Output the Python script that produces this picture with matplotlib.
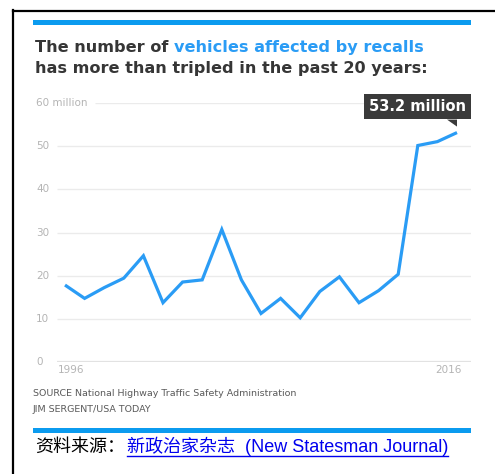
import numpy as np
import matplotlib
matplotlib.use("Agg")
import matplotlib.pyplot as plt
import matplotlib.transforms as mtransforms
from matplotlib.patches import Polygon

# data (millions of vehicles recalled)
years = list(range(1996, 2017))
vehicles = [17.8, 14.7, 17.2, 19.4, 24.6, 13.7, 18.5, 19.0, 30.7, 19.0,
            11.2, 14.7, 10.2, 16.3, 19.7, 13.7, 16.5, 20.3, 50.2, 51.1, 53.2]
y_ticks = [0, 10, 20, 30, 40, 50, 60]
y_tick_labels = ["0", "10", "20", "30", "40", "50", "60 million"]
x_tick_years = [1996, 2016]

W, H = 495, 474
BLUE_BAR = "#0b9bef"
LINE_BLUE = "#2a9cf5"
DARK = "#363636"
GRID = "#ebebeb"
TICK_GRAY = "#b4b4b4"


def fx(px):
    return px / W


def fy(py):
    return 1 - py / H


fig = plt.figure(figsize=(W / 100, H / 100), dpi=100)

# outer frame (top and left edges only)
fig.add_artist(plt.Line2D([fx(13), fx(495)], [fy(10.5), fy(10.5)], color="black", lw=1.6))
fig.add_artist(plt.Line2D([fx(13), fx(13)], [fy(10), fy(474)], color="black", lw=1.6))

# blue bars top and bottom
fig.add_artist(plt.Rectangle((fx(33), fy(25)), fx(471) - fx(33), fy(20) - fy(25),
                             color=BLUE_BAR, lw=0))
fig.add_artist(plt.Rectangle((fx(33), fy(432.5)), fx(471) - fx(33), fy(428) - fy(432.5),
                             color=BLUE_BAR, lw=0))

# title, first line in two colours
TSIZE = 11.6
t1 = fig.text(fx(35), fy(52), "The number of ", fontsize=TSIZE, fontweight="bold",
              color=DARK, va="baseline", ha="left")
fig.canvas.draw()
bb = t1.get_window_extent()
fig.text(bb.x1 / W, fy(52), "vehicles affected by recalls", fontsize=TSIZE,
         fontweight="bold", color=LINE_BLUE, va="baseline", ha="left")
fig.text(fx(35), fy(73), "has more than tripled in the past 20 years:", fontsize=TSIZE,
         fontweight="bold", color=DARK, va="baseline", ha="left")

# chart area
px_per_year = (457 - 65) / 20
x_left = 1996 - (65 - 57) / px_per_year
x_right = 2016 + (471 - 457) / px_per_year
ax = fig.add_axes([fx(57), fy(361.7), fx(471) - fx(57), (361.7 - 103.3) / H])
ax.set_xlim(x_left, x_right)
ax.set_ylim(0, 60)
ax.axis("off")

for v in y_ticks:
    start = x_left
    if v == 60:
        start = x_left + (95 - 57) / px_per_year
    ax.hlines(v, start, x_right, color="#e2e2e2" if v == 0 else GRID,
              lw=1.6 if v == 0 else 1.0, zorder=1)

lab_tr = mtransforms.blended_transform_factory(fig.transFigure, ax.transData)
for v, lab in zip(y_ticks, y_tick_labels):
    ax.text(fx(36), v, lab, transform=lab_tr, fontsize=7.5, color=TICK_GRAY,
            va="center", ha="left")
for yr in x_tick_years:
    first = yr == x_tick_years[0]
    ax.text(yr, 0, str(yr), fontsize=7.5, color=TICK_GRAY, va="top",
            ha="left" if first else "right",
            transform=mtransforms.offset_copy(ax.transData, fig=fig,
                                              x=-7 if first else 5, y=-3, units="dots"))

ax.plot(years, vehicles, color=LINE_BLUE, lw=2.3, solid_joinstyle="miter",
        solid_capstyle="butt", zorder=3, clip_on=False)

# callout on the last point
last_x, last_y = years[-1], vehicles[-1]
pt = ax.transData.transform((last_x, last_y))
tri = Polygon(ax.transData.inverted().transform([(pt[0], pt[1] + 6),
                                                 (pt[0] - 10, pt[1] + 13),
                                                 (pt[0], pt[1] + 13)]),
              closed=True, color="#3a3a3a", lw=0, clip_on=False)
ax.add_patch(tri)
box_tr = mtransforms.offset_copy(ax.transData, fig=fig, x=-39.5, y=26, units="dots")
ax.text(last_x, last_y, "53.2 million", transform=box_tr, fontsize=10.5,
        fontweight="bold", color="white", ha="center", va="center",
        bbox=dict(boxstyle="square,pad=0.35", fc="#3a3a3a", ec="none"), zorder=5)

# source lines
fig.text(fx(33), fy(394), "SOURCE National Highway Traffic Safety Administration",
         fontsize=6.8, color="#5a5a5a", va="center", ha="left")
fig.text(fx(33), fy(409), "JIM SERGENT/USA TODAY", fontsize=6.8, color="#5a5a5a",
         va="center", ha="left")

# chinese source line with underlined link
fams = ["Liberation Sans", "Noto Sans CJK SC"]
fig.text(fx(35), fy(452), "资料来源：", fontsize=13, color="black",
         va="baseline", ha="left", family=["Noto Sans CJK SC"])
c2 = fig.text(fx(127), fy(452), "新政治家杂志  (New Statesman Journal)", fontsize=13,
              color="#0000ee", va="baseline", ha="left", family=fams)
fig.canvas.draw()
lb = c2.get_window_extent()
fig.add_artist(plt.Line2D([lb.x0 / W, lb.x1 / W], [fy(455.5), fy(455.5)],
                          color="#0000ee", lw=1.0))

fig.savefig("out.png", dpi=100)
